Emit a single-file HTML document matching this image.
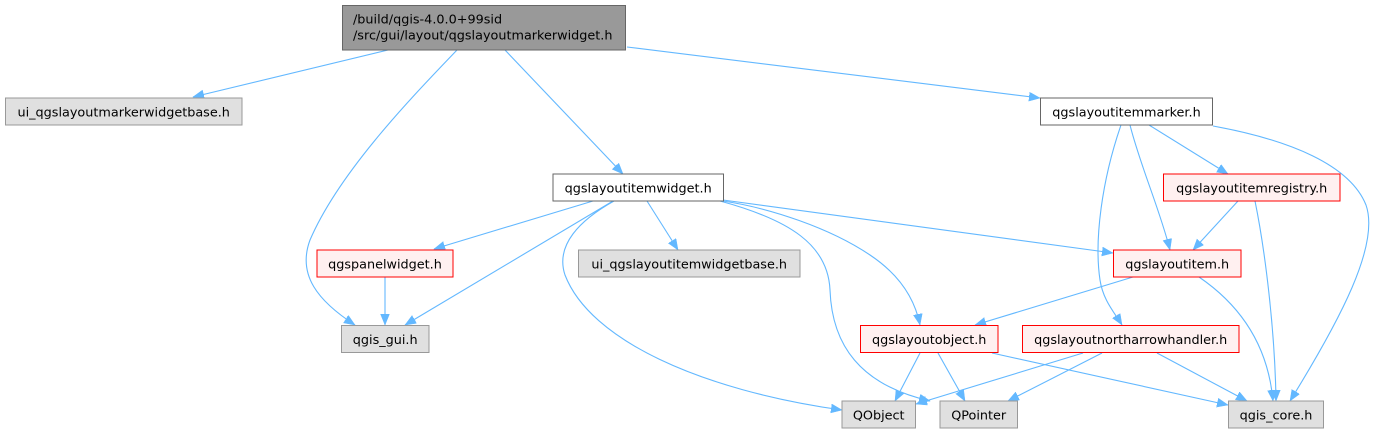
<!DOCTYPE html>
<html>
<head>
<meta charset="utf-8">
<style>
  html, body { margin:0; padding:0; background:#ffffff; }
  body { width:1376px; height:434px; overflow:hidden; }
  svg { display:block; }
  text { font-family: "DejaVu Sans", "Liberation Sans", sans-serif; font-size:12.8px; fill:#000; }
  .e { fill:none; stroke:#63b8ff; stroke-width:1.1; }
</style>
</head>
<body>
<svg width="1376" height="434" viewBox="0 0 1376 434" xmlns="http://www.w3.org/2000/svg">
  <defs>
    <marker id="a" markerUnits="userSpaceOnUse" markerWidth="12" markerHeight="10" refX="11" refY="4.5" orient="auto">
      <path d="M0,0 L11,4.5 L0,9 z" fill="#63b8ff" stroke="#63b8ff" stroke-width="0.5"/>
    </marker>
  </defs>

  <!-- edges -->
  <g class="edges">
    <path class="e" marker-end="url(#a)" d="M388,50 L193,97"/>
    <path class="e" marker-end="url(#a)" d="M457,50 C417,92 340,170 310,240 C297,275 318,301 355,325"/>
    <path class="e" marker-end="url(#a)" d="M505,50 L623,174"/>
    <path class="e" marker-end="url(#a)" d="M627,47 L1040,98"/>

    <path class="e" marker-end="url(#a)" d="M593,201 L434,249"/>
    <path class="e" marker-end="url(#a)" d="M613,201 L405,325"/>
    <path class="e" marker-end="url(#a)" d="M647,201 L678,250"/>
    <path class="e" marker-end="url(#a)" d="M723,200 L1113,253"/>
    <path class="e" marker-end="url(#a)" d="M723,201 C770,208 830,228 870,255 C900,275 915,300 920,325"/>
    <path class="e" marker-end="url(#a)" d="M614,201 C580,220 555,245 565,275 C590,340 700,390 842,410"/>
    <path class="e" marker-end="url(#a)" d="M720,201 C790,220 828,245 830,290 C832,345 860,385 930,401"/>

    <path class="e" marker-end="url(#a)" d="M1149,125 L1228,174"/>
    <path class="e" marker-end="url(#a)" d="M1130,125 C1140,165 1160,210 1170,250"/>
    <path class="e" marker-end="url(#a)" d="M1121,125 C1102,180 1094,240 1100,280 C1103,300 1114,312 1122,325"/>
    <path class="e" marker-end="url(#a)" d="M1213,126 C1290,140 1350,165 1366,205 C1380,245 1340,320 1290,401"/>

    <path class="e" marker-end="url(#a)" d="M1238,201 L1193,250"/>
    <path class="e" marker-end="url(#a)" d="M1255,201 C1265,250 1275,330 1276,401"/>

    <path class="e" marker-end="url(#a)" d="M1133,277 L975,325"/>
    <path class="e" marker-end="url(#a)" d="M1199,277 C1240,305 1268,345 1273,401"/>

    <path class="e" marker-end="url(#a)" d="M385,277 L385,325"/>

    <path class="e" marker-end="url(#a)" d="M920,353 L895,401"/>
    <path class="e" marker-end="url(#a)" d="M938,353 L965,401"/>
    <path class="e" marker-end="url(#a)" d="M992,353 L1228,405"/>

    <path class="e" marker-end="url(#a)" d="M1083,353 L916,404"/>
    <path class="e" marker-end="url(#a)" d="M1102,353 L1008,401"/>
    <path class="e" marker-end="url(#a)" d="M1157,353 L1247,401"/>
  </g>

  <!-- nodes -->
  <g>
    <!-- root -->
    <rect x="342.5" y="5.5" width="283" height="44.5" fill="#999999" stroke="#666666" stroke-width="1"/>
    <text x="353" y="23.5">/build/qgis-4.0.0+99sid</text>
    <text x="353" y="39.5">/src/gui/layout/qgslayoutmarkerwidget.h</text>

    <!-- ui_qgslayoutmarkerwidgetbase.h -->
    <rect x="5.5" y="98" width="236.5" height="27" fill="#e0e0e0" stroke="#999999" stroke-width="1"/>
    <text x="123.7" y="116.3" text-anchor="middle">ui_qgslayoutmarkerwidgetbase.h</text>

    <!-- qgslayoutitemmarker.h -->
    <rect x="1040.5" y="98" width="172" height="27" fill="#ffffff" stroke="#666666" stroke-width="1"/>
    <text x="1126.5" y="116.3" text-anchor="middle">qgslayoutitemmarker.h</text>

    <!-- qgslayoutitemwidget.h -->
    <rect x="553" y="174" width="170.5" height="27" fill="#ffffff" stroke="#666666" stroke-width="1"/>
    <text x="638.2" y="192.3" text-anchor="middle">qgslayoutitemwidget.h</text>

    <!-- qgslayoutitemregistry.h -->
    <rect x="1163.5" y="174" width="176.5" height="27" fill="#fff0f0" stroke="#ff0000" stroke-width="1"/>
    <text x="1251.7" y="192.3" text-anchor="middle">qgslayoutitemregistry.h</text>

    <!-- qgspanelwidget.h -->
    <rect x="317" y="250" width="136" height="27" fill="#fff0f0" stroke="#ff0000" stroke-width="1"/>
    <text x="385" y="268.3" text-anchor="middle">qgspanelwidget.h</text>

    <!-- ui_qgslayoutitemwidgetbase.h -->
    <rect x="578.5" y="250" width="221.5" height="27" fill="#e0e0e0" stroke="#999999" stroke-width="1"/>
    <text x="689.2" y="268.3" text-anchor="middle">ui_qgslayoutitemwidgetbase.h</text>

    <!-- qgslayoutitem.h -->
    <rect x="1113.5" y="250" width="127.5" height="27" fill="#fff0f0" stroke="#ff0000" stroke-width="1"/>
    <text x="1177.2" y="268.3" text-anchor="middle">qgslayoutitem.h</text>

    <!-- qgis_gui.h -->
    <rect x="341.5" y="325.5" width="87.5" height="27" fill="#e0e0e0" stroke="#999999" stroke-width="1"/>
    <text x="385.2" y="343.8" text-anchor="middle">qgis_gui.h</text>

    <!-- qgslayoutobject.h -->
    <rect x="860.5" y="325.5" width="137.5" height="27" fill="#fff0f0" stroke="#ff0000" stroke-width="1"/>
    <text x="929.2" y="343.8" text-anchor="middle">qgslayoutobject.h</text>

    <!-- qgslayoutnortharrowhandler.h -->
    <rect x="1022.5" y="325.5" width="216.5" height="27" fill="#fff0f0" stroke="#ff0000" stroke-width="1"/>
    <text x="1130.7" y="343.8" text-anchor="middle">qgslayoutnortharrowhandler.h</text>

    <!-- QObject -->
    <rect x="842" y="401" width="73.5" height="27" fill="#e0e0e0" stroke="#999999" stroke-width="1"/>
    <text x="878.7" y="419.3" text-anchor="middle">QObject</text>

    <!-- QPointer -->
    <rect x="940" y="401" width="77.5" height="27" fill="#e0e0e0" stroke="#999999" stroke-width="1"/>
    <text x="978.7" y="419.3" text-anchor="middle">QPointer</text>

    <!-- qgis_core.h -->
    <rect x="1228.5" y="401" width="95" height="27" fill="#e0e0e0" stroke="#999999" stroke-width="1"/>
    <text x="1276" y="419.3" text-anchor="middle">qgis_core.h</text>
  </g>
</svg>
</body>
</html>
